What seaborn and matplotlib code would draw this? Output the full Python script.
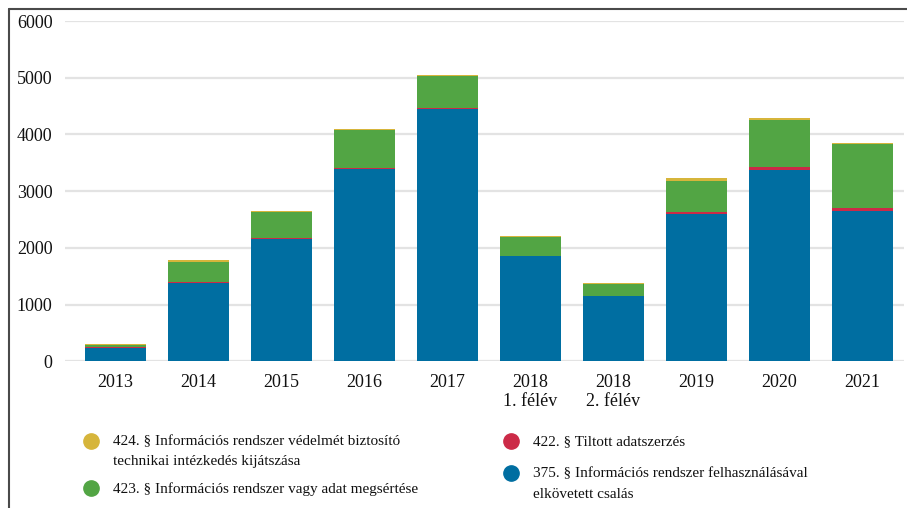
import numpy as np
import pandas as pd
import matplotlib
matplotlib.use('Agg')
import matplotlib.pyplot as plt
import seaborn as sns
from matplotlib.lines import Line2D

years = ['2013', '2014', '2015', '2016', '2017', '2018\n1. félév', '2018\n2. félév', '2019', '2020', '2021']
csalas = [240, 1376, 2152, 3386, 4450, 1857, 1152, 2603, 3380, 2651]        # 375. §
adatszerzes = [5, 28, 23, 28, 23, 5, 3, 36, 47, 58]                        # 422. §
megsertes = [37, 347, 458, 671, 564, 330, 208, 541, 829, 1124]             # 423. §
kijatszas = [23, 36, 18, 17, 18, 23, 23, 53, 35, 22]                       # 424. §

labels = {
    'k': '424. § Információs rendszer védelmét biztosító\ntechnikai intézkedés kijátszása',
    'm': '423. § Információs rendszer vagy adat megsértése',
    'a': '422. § Tiltott adatszerzés',
    'c': '375. § Információs rendszer felhasználásával\nelkövetett csalás',
}
colors = {'k': '#d6b53b', 'm': '#52a544', 'a': '#cc2a47', 'c': '#006ea1'}

df = pd.DataFrame({'year': years, 'c': csalas, 'a': adatszerzes, 'm': megsertes, 'k': kijatszas})
df['c_top'] = df['c']
df['a_top'] = df['c_top'] + df['a']
df['m_top'] = df['a_top'] + df['m']
df['k_top'] = df['m_top'] + df['k']

sns.set_style('white')
plt.rcParams['font.family'] = ['Liberation Serif', 'DejaVu Serif']

fig = plt.figure(figsize=(9.07, 5.08), dpi=100)
ax = fig.add_axes([0.0717, 0.2888, 0.925, 0.6697])

for key in ['k', 'm', 'a', 'c']:
    sns.barplot(data=df, x='year', y=key + '_top', color=colors[key], width=0.735,
                saturation=1, ax=ax, zorder=3, edgecolor='none', linewidth=0)

ax.set_ylim(0, 6000)
ax.set_xlim(-0.61, 9.5)
ax.set_yticks(range(0, 7000, 1000))
ax.grid(axis='y', color='#e3e3e3', linewidth=1.6, zorder=0)
ax.set_axisbelow(True)
for s in ax.spines.values():
    s.set_visible(False)
ax.set_xlabel('')
ax.set_ylabel('')
ax.tick_params(axis='both', length=0, labelsize=13, colors='#111111')
ax.tick_params(axis='y', pad=9)
ax.tick_params(axis='x', pad=9)
ax.set_xticks(range(len(years)))
ax.set_xticklabels(years, linespacing=1.2)

# frame lines (left and top)
fig.add_artist(Line2D([9 / 907, 9 / 907], [0, 1 - 9 / 508], color='#4a4a4a', lw=1.5, transform=fig.transFigure))
fig.add_artist(Line2D([9 / 907, 1], [1 - 9 / 508, 1 - 9 / 508], color='#4a4a4a', lw=1.5, transform=fig.transFigure))

# legend
items = [('k', 91, 441), ('m', 91, 488), ('a', 511, 441), ('c', 511, 473)]
for key, px, py in items:
    fx, fy = px / 907, 1 - py / 508
    fig.add_artist(Line2D([fx], [fy], marker='o', markersize=11, color=colors[key],
                          linestyle='none', transform=fig.transFigure))
    fig.text(fx + 22 / 907, fy + 6 / 508, labels[key], ha='left', va='top', fontsize=11,
             color='#111111', linespacing=1.75)

fig.savefig('out.png', dpi=100)
